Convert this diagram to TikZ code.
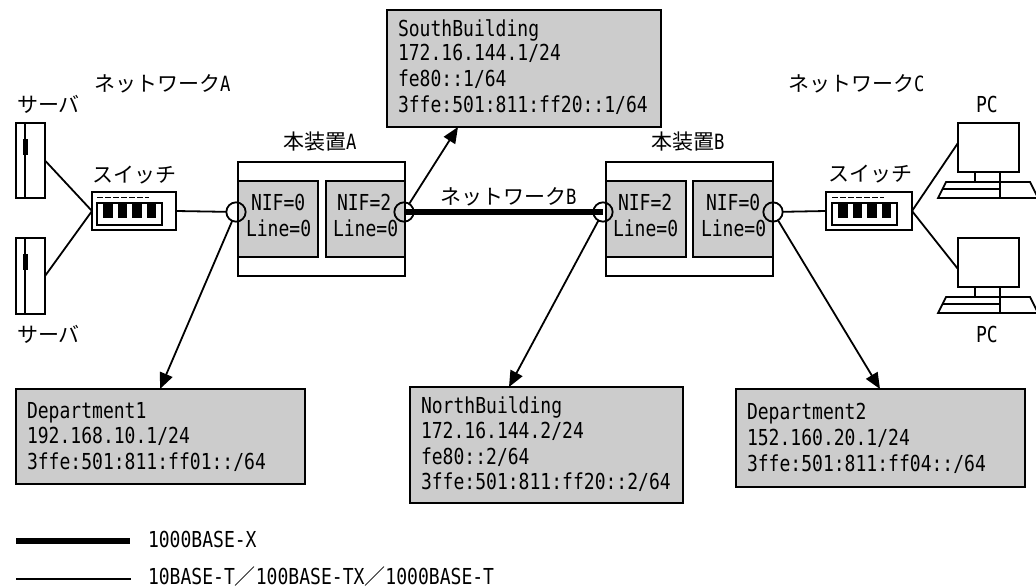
\documentclass[tikz,border=0pt]{standalone}
\usepackage{fontspec}
\setmainfont{Noto Sans CJK JP}
\newfontfamily\jp{Noto Sans CJK JP}
\newfontfamily\lat[FakeStretch=0.82]{DejaVu Sans Mono}
\usetikzlibrary{arrows.meta}
\tikzset{
  ln/.style={line width=1.35pt,black},
  thickln/.style={line width=4.5pt,black},
  pxsize/.style 2 args={minimum width=#1*0.75pt,minimum height=#2*0.75pt},
  shape box/.style={draw,ln,rectangle,inner sep=0pt,outer sep=0pt},
  greybox/.style={shape box,fill=black!20,align=left,anchor=north west,text=black},
  whitebox/.style={shape box,fill=white,anchor=north west},
  lbl/.style={anchor=base west,inner sep=0pt,outer sep=0pt,text=black,font=\fontsize{15.75pt}{19pt}\selectfont},
  txt/.style={anchor=base west,inner sep=0pt,outer sep=0pt,text=black,font=\fontsize{16.5pt}{19.1pt}\selectfont\lat},
  port/.style={draw,ln,circle,inner sep=0pt,outer sep=0pt,minimum size=14.5pt},
  arrowln/.style={ln,-{Triangle[length=12pt,width=10pt]}},
  server icon/.pic={
    \draw[ln] (9,0) -- (9,75);
    \fill[black] (6.5,16) rectangle (11.5,32);
  },
  switch icon/.pic={
    \draw[ln] (0,0) rectangle (65,22);
    \draw[ln,dash pattern=on 4.5pt off 1.5pt] (0,-5.5) -- (52,-5.5);
    \foreach \px in {6,20.5,35,49.5} \fill[black] (\px,0.5) rectangle ++(9.7,14.5);
  },
  pc icon/.pic={
    \draw[ln] (17,49) -- (17,59);
    \draw[ln] (-12,59) -- (72,59) -- (80,75) -- (-20,75) -- cycle;
    \draw[ln] (-16,66) -- (42,66);
    \draw[ln] (42,49) -- (42,75);
  }
}
\begin{document}
\begin{tikzpicture}[x=0.75pt,y=-0.75pt]
\useasboundingbox (0,0) rectangle (1036,588);
% servers
\node[whitebox,pxsize={29}{75}] (s1) at (16,123) {};
\node[whitebox,pxsize={29}{76}] (s2) at (16,238) {};
\pic at (16,123) {server icon};
\pic at (16,238) {server icon};
% switches
\node[whitebox,pxsize={84}{38}] (swA) at (92,192) {};
\pic at (97,203) {switch icon};
\node[whitebox,pxsize={86}{38}] (swC) at (826,192) {};
\pic at (832,203) {switch icon};
% pcs
\node[whitebox,pxsize={61}{49}] (m1) at (958,123) {};
\node[whitebox,pxsize={61}{49}] (m2) at (958,238) {};
\pic at (958,123) {pc icon};
\pic at (958,238) {pc icon};
% devices
\node[whitebox,pxsize={167}{114}] (devA) at (238,162) {};
\node[whitebox,pxsize={167}{114}] (devB) at (606,162) {};
\node[greybox,pxsize={80}{76}] (a0) at (238,181) {};
\node[greybox,pxsize={79}{76}] (a2) at (326,181) {};
\node[greybox,pxsize={80}{76}] (b2) at (606,181) {};
\node[greybox,pxsize={80}{76}] (b0) at (693,181) {};
% info boxes
\node[greybox,pxsize={274}{117}] (south) at (387,10) {};
\node[greybox,pxsize={289}{95}] (dep1) at (16,389) {};
\node[greybox,pxsize={273}{116}] (north) at (410,387) {};
\node[greybox,pxsize={289}{98}] (dep2) at (736,389) {};
% ports
\node[port] (c1) at (236,212) {};
\node[port] (c2) at (404,212) {};
\node[port] (c3) at (603,212) {};
\node[port] (c4) at (773,212) {};
\coordinate (t0) at (458,127);
\coordinate (t1) at (160,389);
\coordinate (t2) at (509,387);
\coordinate (t3) at (880,389);
% connectors
\draw[ln] (s1.east) -- (swA.west);
\draw[ln] (s2.east) -- (swA.west);
\draw[ln] (swA.east) -- (c1);
\draw[ln] (c4) -- (swC.west);
\draw[ln] (swC.east) -- ([yshift=3.4pt]m1.west);
\draw[ln] (swC.east) -- ([yshift=-4.9pt]m2.west);
\draw[thickln] (c2.center) -- (c3.center);
\draw[arrowln] (c2) -- (t0);
\draw[arrowln] (c1) -- (t1);
\draw[arrowln] (c3) -- (t2);
\draw[arrowln] (c4) -- (t3);
% labels
\node[lbl] (l1) at (94,92) {ネットワーク{\lat A}};
\node[lbl] (l2) at (17,113) {サーバ};
\node[lbl] (l3) at (17,342) {サーバ};
\node[lbl] (l4) at (92,183) {スイッチ};
\node[lbl] (l5) at (283,150) {本装置{\lat A}};
\node[lbl] (l6) at (651,150) {本装置{\lat B}};
\node[lbl] (l7) at (440,205) {ネットワーク{\lat B}};
\node[lbl] (l8) at (788,92) {ネットワーク{\lat C}};
\node[lbl] (l9) at (828,182) {スイッチ};
\node[txt] (l10) at (976,113) {PC};
\node[txt] (l11) at (976,342) {PC};
\node[txt] (n1) at (251,211) {NIF=0};
\node[txt] (n2) at (246,237) {Line=0};
\node[txt] (n3) at (337,211) {NIF=2};
\node[txt] (n4) at (333,237) {Line=0};
\node[txt] (n5) at (618,211) {NIF=2};
\node[txt] (n6) at (613,237) {Line=0};
\node[txt] (n7) at (706,211) {NIF=0};
\node[txt] (n8) at (701,237) {Line=0};
\node[txt] (so1) at (398,37) {SouthBuilding};
\node[txt] (so2) at (398,61) {172.16.144.1/24};
\node[txt] (so3) at (398,87) {fe80::1/64};
\node[txt] (so4) at (398,113) {3ffe:501:811:ff20::1/64};
\node[txt] (de1) at (27,418) {Department1};
\node[txt] (de2) at (27,443) {192.168.10.1/24};
\node[txt] (de3) at (27,469) {3ffe:501:811:ff01::/64};
\node[txt] (no1) at (421,413) {NorthBuilding};
\node[txt] (no2) at (421,438) {172.16.144.2/24};
\node[txt] (no3) at (421,464) {fe80::2/64};
\node[txt] (no4) at (421,489) {3ffe:501:811:ff20::2/64};
\node[txt] (dt1) at (747,419) {Department2};
\node[txt] (dt2) at (747,445) {152.160.20.1/24};
\node[txt] (dt3) at (747,471) {3ffe:501:811:ff04::/64};
% legend
\coordinate (k1) at (16,541);
\coordinate (k2) at (130,541);
\coordinate (k3) at (16,579);
\coordinate (k4) at (131,579);
\draw[thickln] (k1) -- (k2);
\draw[ln] (k3) -- (k4);
\node[txt] (g1) at (148,547) {1000BASE-X};
\node[txt] (g2) at (148,584) {10BASE-T{\fontsize{15.75pt}{19pt}\selectfont\jp ／}100BASE-TX{\fontsize{15.75pt}{19pt}\selectfont\jp ／}1000BASE-T};
\end{tikzpicture}
\end{document}
